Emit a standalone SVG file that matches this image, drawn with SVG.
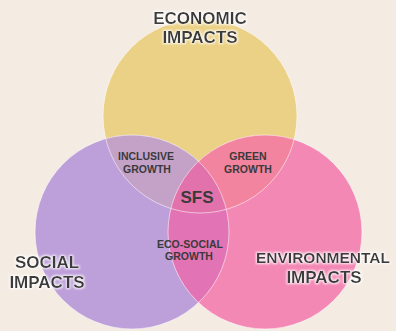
<svg xmlns="http://www.w3.org/2000/svg" width="396" height="331" viewBox="0 0 396 331">
  <style>
    .lbl { font-family: "Liberation Sans", Arial, sans-serif; font-weight: bold; fill: #3a3a3a; text-anchor: middle; }
    .big { font-size: 17px; filter: url(#glow); }
    .wide { font-size: 15.5px; }
    .small { font-size: 10.5px; }
    .sfs { font-size: 17px; }
    .rim { fill: none; stroke: #ffffff; stroke-opacity: 0.55; stroke-width: 1; }
  </style>
  <defs>
    <circle id="cEco" cx="200" cy="116" r="97"/>
    <circle id="cSoc" cx="132" cy="232" r="97"/>
    <circle id="cEnv" cx="265" cy="232" r="97"/>
    <clipPath id="clipEco"><use href="#cEco"/></clipPath>
    <clipPath id="clipSoc"><use href="#cSoc"/></clipPath>
    <clipPath id="clipEnv"><use href="#cEnv"/></clipPath>
    <filter id="glow" x="-4%" y="-30%" width="108%" height="160%">
      <feMorphology in="SourceAlpha" operator="dilate" radius="1" result="d"/>
      <feGaussianBlur in="d" stdDeviation="1" result="b"/>
      <feFlood flood-color="#ffffff" flood-opacity="0.85"/>
      <feComposite in2="b" operator="in" result="halo"/>
      <feMerge><feMergeNode in="halo"/><feMergeNode in="SourceGraphic"/></feMerge>
    </filter>
  </defs>

  <rect width="396" height="331" fill="#f4ebe3"/>

  <!-- circles -->
  <g id="economic">
    <use href="#cEco" fill="#ebd186"/>
  </g>
  <g id="social">
    <use href="#cSoc" fill="#bd9fd9"/>
  </g>
  <g id="environmental">
    <use href="#cEnv" fill="#f388b5"/>
  </g>

  <!-- pairwise overlaps -->
  <g id="inclusive-growth" clip-path="url(#clipEco)">
    <use href="#cSoc" fill="#c4a2c8"/>
  </g>
  <g id="green-growth" clip-path="url(#clipEco)">
    <use href="#cEnv" fill="#f2849f"/>
  </g>
  <g id="eco-social-growth" clip-path="url(#clipSoc)">
    <use href="#cEnv" fill="#e274b6"/>
  </g>
  <!-- triple overlap -->
  <g id="sfs" clip-path="url(#clipEco)">
    <g clip-path="url(#clipSoc)">
      <use href="#cEnv" fill="#e272ab"/>
    </g>
  </g>

  <!-- soft white rims -->
  <g id="rims">
    <use href="#cEco" class="rim"/>
    <use href="#cSoc" class="rim"/>
    <use href="#cEnv" class="rim"/>
  </g>

  <!-- labels -->
  <g id="labels">
    <text class="lbl big" x="200" y="24">ECONOMIC</text>
    <text class="lbl big" x="200" y="43">IMPACTS</text>
    <text class="lbl big" x="47" y="268">SOCIAL</text>
    <text class="lbl big" x="47" y="288">IMPACTS</text>
    <text class="lbl big wide" x="323" y="263">ENVIRONMENTAL</text>
    <text class="lbl big" x="324" y="283">IMPACTS</text>
    <text class="lbl small" x="146" y="160">INCLUSIVE</text>
    <text class="lbl small" x="147" y="173">GROWTH</text>
    <text class="lbl small" x="248" y="160">GREEN</text>
    <text class="lbl small" x="248" y="173">GROWTH</text>
    <text class="lbl sfs" x="197" y="203">SFS</text>
    <text class="lbl small" x="190" y="248">ECO-SOCIAL</text>
    <text class="lbl small" x="189" y="260">GROWTH</text>
  </g>
</svg>
